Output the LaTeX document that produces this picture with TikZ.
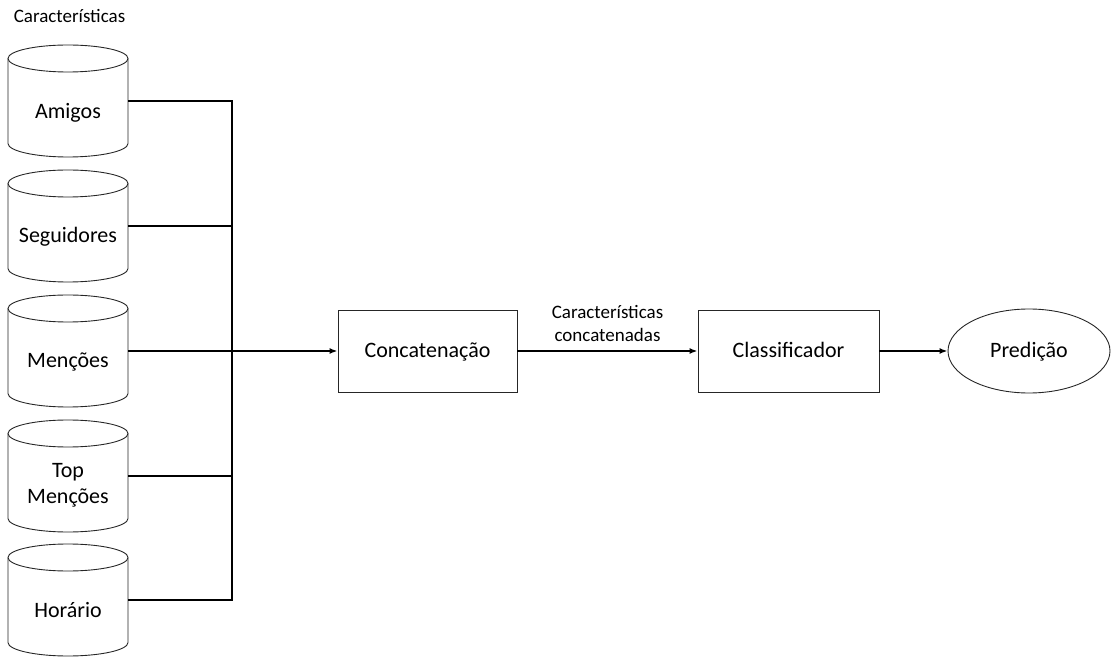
\documentclass[tikz,border=0pt]{standalone}
\usepackage{fontspec}
\setmainfont{Carlito}
\usetikzlibrary{arrows.meta,shapes.geometric}
\tikzset{
  conn/.style={line width=1.6pt,-{Latex[length=8pt,width=6pt]}},
  bus/.style={line width=1.6pt},
  shapeline/.style={draw=black!85,line width=0.9pt},
  bigfont/.style={font=\fontsize{22}{25}\selectfont},
  procbox/.style={shapeline,rectangle,minimum height=82pt,bigfont,text height=18pt,text depth=4pt},
  cylanchor/.style={rectangle,minimum width=120pt,minimum height=112pt,inner sep=0pt},
  cyltext/.style={bigfont,anchor=base,inner sep=0pt},
  smalltext/.style={font=\fontsize{19}{23}\selectfont,align=center}
}
\newcommand{\cylat}[3]{%
  % #1 name, #2 x, #3 y (centre)
  \node[cylanchor] (#1) at (#2,#3) {};
  \draw[shapeline] (#2-60,#3+42.5) -- (#2-60,#3-42.5)
     arc[start angle=180,end angle=360,x radius=60pt,y radius=13.5pt]
     -- (#2+60,#3+42.5);
  \draw[shapeline] (#2,#3+42.5) ellipse[x radius=60pt,y radius=13.5pt];
}
\begin{document}
\begin{tikzpicture}[x=1pt,y=1pt]
\useasboundingbox (0,0) rectangle (1112,657);
% title
\node[smalltext,anchor=base,inner sep=0pt] (title) at (69.5,634) {Características};
% cylinders
\cylat{c1}{68}{556}
\cylat{c2}{68}{431}
\cylat{c3}{68}{306}
\cylat{c4}{68}{181}
\cylat{c5}{68}{57}
\node[cyltext] (t1) at (68,538) {Amigos};
\node[cyltext] (t2) at (68,414) {Seguidores};
\node[cyltext] (t3) at (68,289) {Menções};
\node[cyltext] (t4a) at (68,179) {Top};
\node[cyltext] (t4b) at (68,154) {Menções};
\node[cyltext] (t5) at (68,40) {Horário};
% bus
\coordinate (b1) at (232,556);
\coordinate (b5) at (232,57);
\coordinate (bm) at (232,306);
\draw[bus] (c1.east) -- (b1) -- (b5) -- (c5.east);
\draw[bus] (c2.east) -- (c2.east -| bm);
\draw[bus] (c4.east) -- (c4.east -| bm);
% process
\node[procbox,minimum width=179pt] (concat) at (427.5,306) {Concatenação};
\node[procbox,minimum width=181pt] (clf) at (788.5,306) {Classificador};
\node[shapeline,ellipse,minimum width=162pt,minimum height=84pt,inner sep=0pt,bigfont,text height=18pt,text depth=4pt] (pred) at (1029,306) {Predição};
\draw[bus] (c3.east) -- (bm);
\draw[conn] (bm) -- (concat.west);
\draw[conn] (concat.east) -- node[smalltext,anchor=south,inner sep=0pt,yshift=9pt] (lbl) {Características\\concatenadas} (clf.west);
\draw[conn] (clf.east) -- (pred.west);
\end{tikzpicture}
\end{document}
